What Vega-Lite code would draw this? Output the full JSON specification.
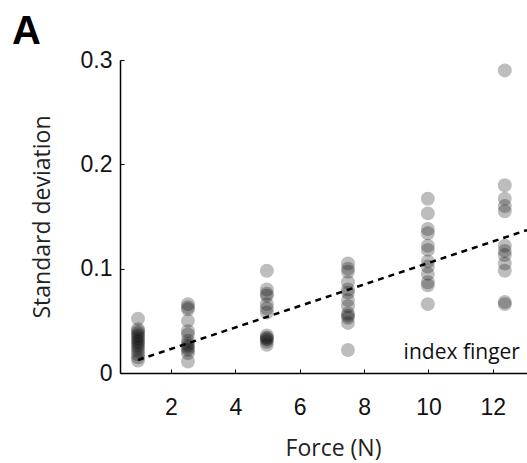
{
  "$schema": "https://vega.github.io/schema/vega-lite/v6.json",
  "width": 407,
  "height": 313,
  "autosize": {"type": "none"},
  "padding": {"left": 120, "top": 60, "right": 0, "bottom": 90},
  "background": "white",
  "title": {"text": "A", "anchor": "start", "frame": "group", "dx": -108, "dy": 17, "offset": 14, "fontSize": 40, "fontWeight": "bold", "font": "Liberation Sans", "color": "black"},
  "config": {
    "view": {"stroke": null},
    "axis": {"grid": false, "domainColor": "black", "domainWidth": 1.5, "tickColor": "black", "tickSize": -4, "labelFont": "Liberation Sans", "labelFontSize": 23, "labelColor": "#111", "titleFont": "Open Sans", "titleFontWeight": "normal", "titleFontSize": 23, "titleColor": "#222"}
  },
  "datasets": {
    "pts": [
      {"force": 0.98, "sd": 0.052}, {"force": 0.98, "sd": 0.042}, {"force": 0.98, "sd": 0.040}, {"force": 0.98, "sd": 0.038}, {"force": 0.98, "sd": 0.036}, {"force": 0.98, "sd": 0.034}, {"force": 0.98, "sd": 0.032}, {"force": 0.98, "sd": 0.030}, {"force": 0.98, "sd": 0.028}, {"force": 0.98, "sd": 0.026}, {"force": 0.98, "sd": 0.024}, {"force": 0.98, "sd": 0.021}, {"force": 0.98, "sd": 0.018}, {"force": 0.98, "sd": 0.015}, {"force": 0.98, "sd": 0.012},
      {"force": 2.53, "sd": 0.066}, {"force": 2.53, "sd": 0.063}, {"force": 2.53, "sd": 0.061}, {"force": 2.53, "sd": 0.050}, {"force": 2.53, "sd": 0.040}, {"force": 2.53, "sd": 0.037}, {"force": 2.53, "sd": 0.031}, {"force": 2.53, "sd": 0.028}, {"force": 2.53, "sd": 0.026}, {"force": 2.53, "sd": 0.024}, {"force": 2.53, "sd": 0.022}, {"force": 2.53, "sd": 0.019}, {"force": 2.53, "sd": 0.011},
      {"force": 4.98, "sd": 0.098}, {"force": 4.98, "sd": 0.080}, {"force": 4.98, "sd": 0.076}, {"force": 4.98, "sd": 0.074}, {"force": 4.98, "sd": 0.066}, {"force": 4.98, "sd": 0.062}, {"force": 4.98, "sd": 0.058}, {"force": 4.98, "sd": 0.036}, {"force": 4.98, "sd": 0.034}, {"force": 4.98, "sd": 0.033}, {"force": 4.98, "sd": 0.032}, {"force": 4.98, "sd": 0.030}, {"force": 4.98, "sd": 0.027},
      {"force": 7.5, "sd": 0.105}, {"force": 7.5, "sd": 0.100}, {"force": 7.5, "sd": 0.097}, {"force": 7.5, "sd": 0.087}, {"force": 7.5, "sd": 0.080}, {"force": 7.5, "sd": 0.077}, {"force": 7.5, "sd": 0.070}, {"force": 7.5, "sd": 0.064}, {"force": 7.5, "sd": 0.057}, {"force": 7.5, "sd": 0.055}, {"force": 7.5, "sd": 0.053}, {"force": 7.5, "sd": 0.048}, {"force": 7.5, "sd": 0.022},
      {"force": 9.98, "sd": 0.167}, {"force": 9.98, "sd": 0.153}, {"force": 9.98, "sd": 0.138}, {"force": 9.98, "sd": 0.134}, {"force": 9.98, "sd": 0.122}, {"force": 9.98, "sd": 0.118}, {"force": 9.98, "sd": 0.107}, {"force": 9.98, "sd": 0.102}, {"force": 9.98, "sd": 0.095}, {"force": 9.98, "sd": 0.087}, {"force": 9.98, "sd": 0.084}, {"force": 9.98, "sd": 0.066},
      {"force": 12.37, "sd": 0.290}, {"force": 12.37, "sd": 0.180}, {"force": 12.37, "sd": 0.167}, {"force": 12.37, "sd": 0.160}, {"force": 12.37, "sd": 0.155}, {"force": 12.37, "sd": 0.122}, {"force": 12.37, "sd": 0.117}, {"force": 12.37, "sd": 0.113}, {"force": 12.37, "sd": 0.105}, {"force": 12.37, "sd": 0.098}, {"force": 12.37, "sd": 0.068}, {"force": 12.37, "sd": 0.066}
    ],
    "fit": [{"force": 0.98, "sd": 0.0125}, {"force": 13.06, "sd": 0.137}],
    "note": [{"force": 12.84, "sd": 0.019, "label": "index finger"}]
  },
  "layer": [
    {
      "data": {"name": "pts"},
      "mark": {"type": "circle", "size": 195, "color": "black", "opacity": 0.26, "clip": false},
      "encoding": {
        "x": {"field": "force", "type": "quantitative", "scale": {"domain": [0.42, 13.06], "nice": false, "zero": false}, "axis": {"values": [2, 4, 6, 8, 10, 12], "title": "Force (N)", "labelPadding": 27, "titlePadding": 18, "titleX": 213}},
        "y": {"field": "sd", "type": "quantitative", "scale": {"domain": [0, 0.3], "nice": false}, "axis": {"values": [0, 0.1, 0.2, 0.3], "format": ".1~f", "title": "Standard deviation", "labelPadding": 12, "titlePadding": 26}}
      }
    },
    {
      "data": {"name": "fit"},
      "mark": {"type": "line", "color": "black", "strokeWidth": 2.5, "strokeDash": [6, 5]},
      "encoding": {
        "x": {"field": "force", "type": "quantitative"},
        "y": {"field": "sd", "type": "quantitative"}
      }
    },
    {
      "data": {"name": "note"},
      "mark": {"type": "text", "align": "right", "baseline": "middle", "font": "Open Sans", "fontSize": 21, "color": "#111"},
      "encoding": {
        "x": {"field": "force", "type": "quantitative"},
        "y": {"field": "sd", "type": "quantitative"},
        "text": {"field": "label"}
      }
    }
  ]
}
